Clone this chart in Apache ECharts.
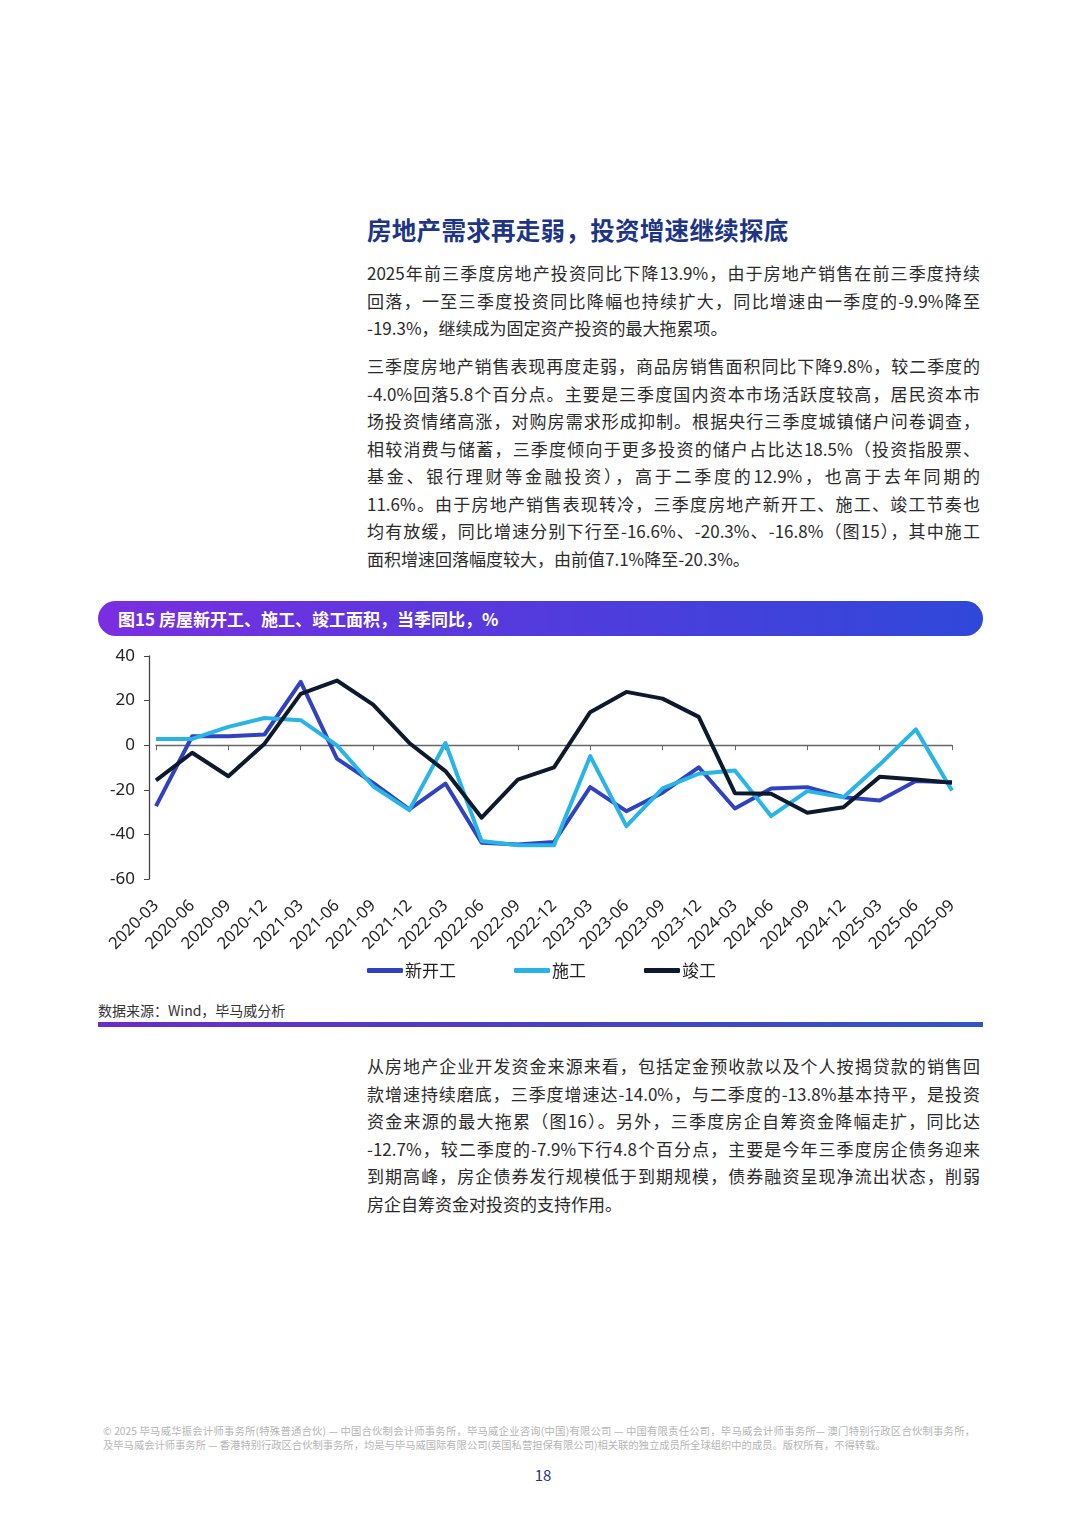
<!DOCTYPE html>
<html>
<head>
<meta charset="utf-8">
<script src="https://cdn.jsdelivr.net/npm/echarts@6/dist/echarts.min.js"></script>
<style>
  html, body { margin: 0; padding: 0; background: #fff; }
  body { width: 1080px; height: 1515px; position: relative; overflow: hidden;
         font-family: 'Noto Sans CJK SC', 'Noto Sans', sans-serif; color: #2b2b2b; }
  .abs { position: absolute; }
  .title { left: 367px; top: 212px; font-size: 24.5px; font-weight: bold; color: #1d3585; letter-spacing: 0.3px; }
  .para { left: 367px; width: 613px; font-size: 17px; line-height: 27.5px; }
  .para div { text-align: justify; text-align-last: justify; white-space: nowrap; }
  .para div.last { text-align-last: left; }
  .banner { left: 98px; top: 601px; width: 885px; height: 35px; border-radius: 18px;
            background: linear-gradient(90deg, #7a2ee0 0%, #5a38de 40%, #2f48da 100%); }
  .banner span { position: absolute; left: 20px; top: 5px; color: #fff; font-size: 17px; font-weight: bold; }
  #chart { left: 0; top: 640px; width: 1080px; height: 350px; }
  .source { left: 98px; top: 1000px; font-size: 14px; color: #333; }
  .bar { left: 98px; top: 1022px; width: 885px; height: 5px;
         background: linear-gradient(90deg, #6b2cc9 0%, #4a3fc8 50%, #2f55c6 100%); }
  .foot { left: 103px; font-size: 10.3px; color: #b5b5b5; white-space: nowrap; }
  .foot.j { width: 872px; text-align: justify; text-align-last: justify; }
  .page { left: 0; width: 1086px; top: 1464px; text-align: center; font-size: 15px; color: #1d3585; }
</style>
</head>
<body>
<div class="abs title">房地产需求再走弱，投资增速继续探底</div>

<div class="abs para" style="top:259px">
  <div>2025年前三季度房地产投资同比下降13.9%，由于房地产销售在前三季度持续</div>
  <div>回落，一至三季度投资同比降幅也持续扩大，同比增速由一季度的-9.9%降至</div>
  <div class="last">-19.3%，继续成为固定资产投资的最大拖累项。</div>
</div>

<div class="abs para" style="top:352px">
  <div>三季度房地产销售表现再度走弱，商品房销售面积同比下降9.8%，较二季度的</div>
  <div>-4.0%回落5.8个百分点。主要是三季度国内资本市场活跃度较高，居民资本市</div>
  <div>场投资情绪高涨，对购房需求形成抑制。根据央行三季度城镇储户问卷调查，</div>
  <div>相较消费与储蓄，三季度倾向于更多投资的储户占比达18.5%（投资指股票、</div>
  <div>基金、银行理财等金融投资），高于二季度的12.9%，也高于去年同期的</div>
  <div>11.6%。由于房地产销售表现转冷，三季度房地产新开工、施工、竣工节奏也</div>
  <div>均有放缓，同比增速分别下行至-16.6%、-20.3%、-16.8%（图15），其中施工</div>
  <div class="last">面积增速回落幅度较大，由前值7.1%降至-20.3%。</div>
</div>

<div class="abs banner"><span>图15 房屋新开工、施工、竣工面积，当季同比，%</span></div>

<div id="chart" class="abs"></div>

<div class="abs source">数据来源：Wind，毕马威分析</div>
<div class="abs bar"></div>

<div class="abs para" style="top:1052px">
  <div>从房地产企业开发资金来源来看，包括定金预收款以及个人按揭贷款的销售回</div>
  <div>款增速持续磨底，三季度增速达-14.0%，与二季度的-13.8%基本持平，是投资</div>
  <div>资金来源的最大拖累（图16）。另外，三季度房企自筹资金降幅走扩，同比达</div>
  <div>-12.7%，较二季度的-7.9%下行4.8个百分点，主要是今年三季度房企债务迎来</div>
  <div>到期高峰，房企债券发行规模低于到期规模，债券融资呈现净流出状态，削弱</div>
  <div class="last">房企自筹资金对投资的支持作用。</div>
</div>

<div class="abs foot j" style="top:1423px">© 2025 毕马威华振会计师事务所(特殊普通合伙) — 中国合伙制会计师事务所，毕马威企业咨询(中国)有限公司 — 中国有限责任公司，毕马威会计师事务所— 澳门特别行政区合伙制事务所，</div>
<div class="abs foot" style="top:1437px">及毕马威会计师事务所 — 香港特别行政区合伙制事务所，均是与毕马威国际有限公司(英国私营担保有限公司)相关联的独立成员所全球组织中的成员。版权所有，不得转载。</div>
<div class="abs page">18</div>

<script>
// 季度
const quarters = ['2020-03','2020-06','2020-09','2020-12','2021-03','2021-06','2021-09','2021-12',
  '2022-03','2022-06','2022-09','2022-12','2023-03','2023-06','2023-09','2023-12',
  '2024-03','2024-06','2024-09','2024-12','2025-03','2025-06','2025-09']
// 当季同比，%
const newStarts = [-27.3, 4.0, 4.0, 4.8, 28.4, -6.0, -16.9, -28.8, -17.2, -43.7, -44.5, -43.4,
  -18.8, -29.6, -21.3, -9.9, -28.4, -19.4, -18.8, -23.3, -24.8, -16.1, -16.6]
const underConstruction = [2.8, 2.8, 8.2, 12.2, 11.2, -0.1, -18.4, -29.1, 1.0, -43.0, -44.9, -44.9,
  -4.9, -36.3, -19.4, -12.8, -11.3, -31.8, -20.6, -23.3, -8.7, 7.1, -20.3]
const completed = [-15.8, -3.4, -13.9, 0.7, 23.0, 29.0, 18.2, 1.0, -11.6, -32.5, -15.4, -9.9,
  14.8, 23.9, 20.9, 12.7, -21.5, -21.8, -30.3, -27.8, -14.2, -15.4, -16.8]
const yTicks = { min: -60, max: 40, interval: 20 }

const seriesNames = ['新开工', '施工', '竣工']
const colors = ['#3042c0', '#29b4e6', '#0d1a2e']

var chart = echarts.init(document.getElementById('chart'))
const fontFamily = "'Noto Sans', 'Noto Sans CJK SC', sans-serif"

const option = {
  animation: false,
  textStyle: { fontFamily: fontFamily },
  grid: { left: 156, right: 128, top: 16, bottom: 111 },
  legend: {
    data: seriesNames,
    left: 362,
    top: 317,
    icon: 'roundRect',
    itemWidth: 36,
    itemHeight: 5,
    itemGap: 58,
    textStyle: { fontSize: 17, color: '#222', fontFamily: "'Noto Sans CJK SC', sans-serif", padding: [0, 0, 0, -3] }
  },
  xAxis: [
    {
      // zero line with ticks
      type: 'category',
      data: quarters,
      boundaryGap: false,
      axisLine: { onZero: true, lineStyle: { color: '#666', width: 1.3 } },
      axisTick: { show: true, length: 5, lineStyle: { color: '#666' } },
      axisLabel: { show: false },
      splitLine: { show: false }
    },
    {
      // labels at the bottom
      type: 'category',
      data: quarters,
      boundaryGap: false,
      position: 'bottom',
      axisLine: { show: false, onZero: false },
      axisTick: { show: false },
      axisLabel: { rotate: 45, fontSize: 16.5, color: '#222', margin: 24, interval: 0 },
      splitLine: { show: false }
    }
  ],
  yAxis: {
    type: 'value',
    min: yTicks.min,
    max: yTicks.max,
    interval: yTicks.interval,
    offset: 7,
    axisLine: { show: true, lineStyle: { color: '#444', width: 1.3 } },
    axisTick: { show: true, length: 5, lineStyle: { color: '#444' } },
    axisLabel: { fontSize: 17, color: '#222', margin: 14 },
    splitLine: { show: false }
  },
  series: [
    { name: seriesNames[0], type: 'line', data: newStarts },
    { name: seriesNames[1], type: 'line', data: underConstruction },
    { name: seriesNames[2], type: 'line', data: completed }
  ].map((s, i) => Object.assign(s, {
    xAxisIndex: 0,
    showSymbol: false,
    symbol: 'none',
    color: colors[i],
    lineStyle: { width: 4, color: colors[i], join: 'round' }
  }))
}

chart.setOption(option)
</script>
</body>
</html>
